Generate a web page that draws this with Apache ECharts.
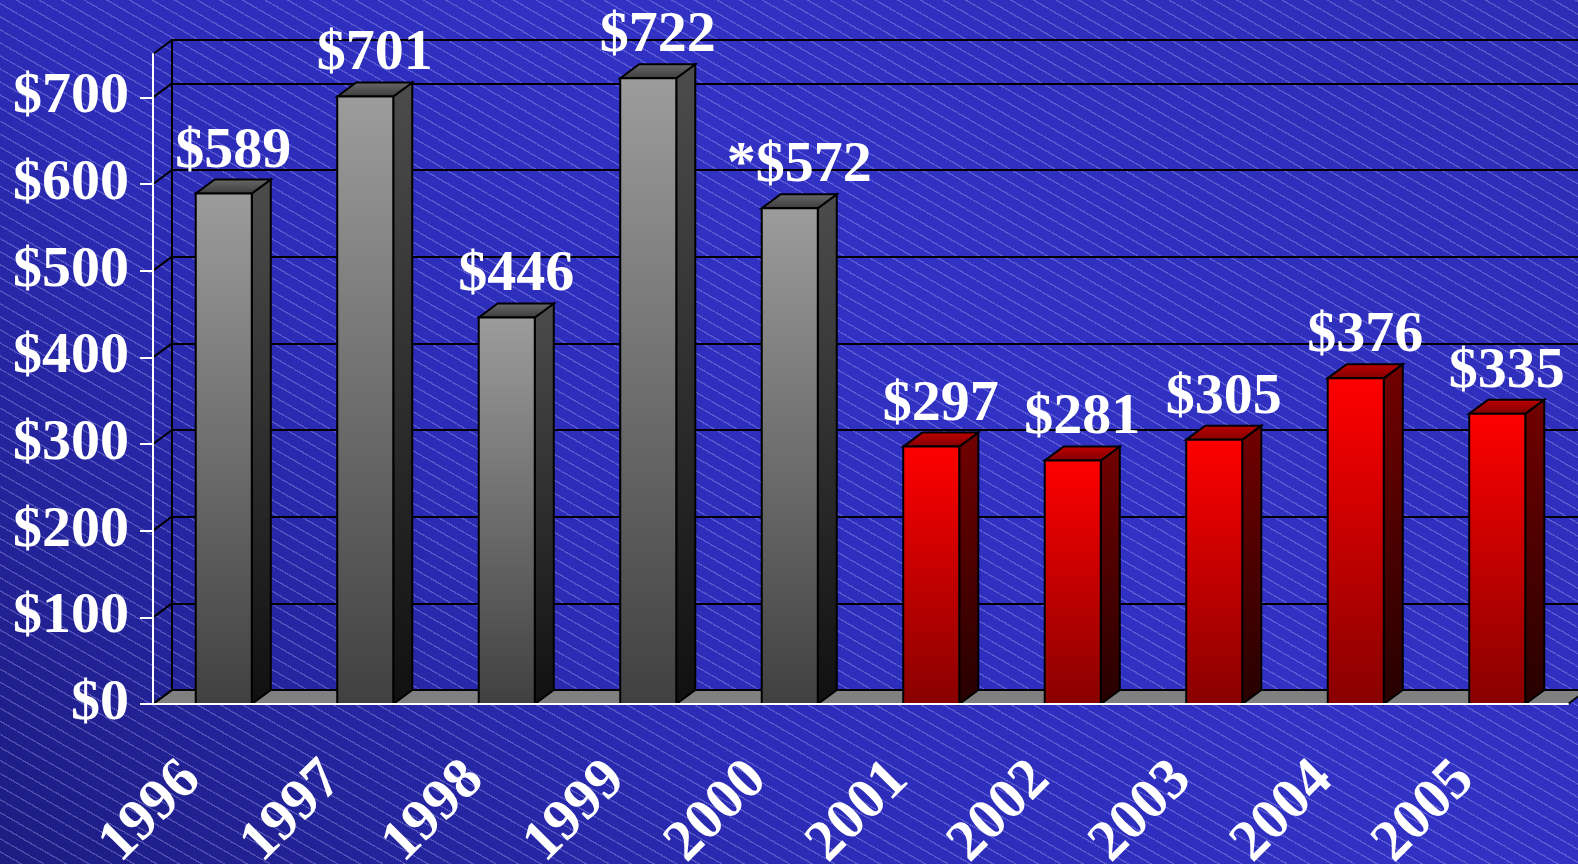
<!DOCTYPE html>
<html>
<head>
<meta charset="utf-8">
<script src="https://cdn.jsdelivr.net/npm/echarts@6/dist/echarts.min.js"></script>
<style>
  html, body { margin: 0; padding: 0; }
  body {
    width: 1578px; height: 864px; overflow: hidden;
    background:
      repeating-linear-gradient(30deg, rgba(255,255,255,0) 0px, rgba(255,255,255,0) 10px, rgba(190,190,255,0.3) 10px, rgba(190,190,255,0.3) 11.3px),
      linear-gradient(45deg, #1c1c82 0%, #2c2cb8 35%, #3131c4 60%, #2d2db6 100%);
  }
  #chart { width: 1578px; height: 864px; }
</style>
</head>
<body>
<div id="chart"></div>
<script>
// 数据
var years = ['1996', '1997', '1998', '1999', '2000', '2001', '2002', '2003', '2004', '2005'];
var costs = [589, 701, 446, 722, 572, 297, 281, 305, 376, 335];
var notes = ['', '', '', '', '*', '', '', '', '', ''];
var yTicks = [0, 100, 200, 300, 400, 500, 600, 700];
var yMax = 750;

// 立体效果的纵深
var DX = 19, DY = -14;
var FONT = '"Liberation Serif", "Times New Roman", serif';

function grad(c1, c2) {
    return { type: 'linear', x: 0, y: 0, x2: 0, y2: 1, colorStops: [{ offset: 0, color: c1 }, { offset: 1, color: c2 }] };
}

var grayStyle = { front: grad('#9c9c9c', '#404040'), side: grad('#4c4c4c', '#101010'), top: grad('#6a6a6a', '#3a3a3a') };
var redStyle = { front: grad('#ff0000', '#880000'), side: grad('#720000', '#260000'), top: grad('#c00000', '#800000') };

var myChart = echarts.init(document.getElementById('chart'));

var option = {
    animation: false,
    grid: [
        { left: 153, right: 10, top: 54, bottom: 160, containLabel: false, outerBoundsMode: 'none' },
        { left: 153 + DX, right: 10 - DX, top: 54 + DY, bottom: 160 - DY, containLabel: false, outerBoundsMode: 'none' }
    ],
    xAxis: [
        {
            gridIndex: 0, type: 'category', data: years, z: 3,
            axisLine: { lineStyle: { color: '#fff', width: 2 } },
            axisTick: { length: 11, lineStyle: { color: '#fff', width: 2 } },
            axisLabel: {
                rotate: 45, margin: 35, padding: [0, 45, 0, 0],
                color: '#fff', fontSize: 58, fontWeight: 'bold', fontFamily: FONT
            }
        },
        {
            gridIndex: 1, type: 'category', data: years,
            axisLine: { lineStyle: { color: '#000', width: 2 } },
            axisTick: { show: false }, axisLabel: { show: false }
        }
    ],
    yAxis: [
        {
            gridIndex: 0, type: 'value', min: 0, max: yMax, interval: 100, z: 3,
            axisLine: { show: true, lineStyle: { color: '#fff', width: 2 } },
            axisTick: { show: true, length: 13, customValues: yTicks, lineStyle: { color: '#fff', width: 2 } },
            axisLabel: {
                customValues: yTicks, margin: 24, color: '#fff', fontSize: 58, fontWeight: 'bold', fontFamily: FONT,
                formatter: function (v) { return '$' + v; }
            },
            splitLine: { show: false }
        },
        {
            gridIndex: 1, type: 'value', min: 0, max: yMax, interval: 100,
            axisLine: { show: true, lineStyle: { color: '#000', width: 2 } },
            axisTick: { show: false }, axisLabel: { show: false },
            splitLine: { show: true, lineStyle: { color: '#000', width: 2 } }
        }
    ],
    series: [
        {
            // 地板和左侧墙的斜线
            type: 'custom', xAxisIndex: 0, yAxisIndex: 0, z: 1, silent: true,
            data: [[0, 0]],
            renderItem: function (params, api) {
                var cs = params.coordSys;
                var yb = api.coord([0, 0])[1];
                var x0 = cs.x, x1 = cs.x + cs.width;
                var children = [{
                    type: 'polygon',
                    shape: { points: [[x0, yb], [x1, yb], [x1 + DX, yb + DY], [x0 + DX, yb + DY]] },
                    style: { fill: '#808080', stroke: '#000', lineWidth: 2 }
                }];
                yTicks.concat([yMax]).forEach(function (v) {
                    var y = api.coord([0, v])[1];
                    children.push({
                        type: 'line',
                        shape: { x1: x0, y1: y, x2: x0 + DX, y2: y + DY },
                        style: { stroke: '#000', lineWidth: 2 }
                    });
                });
                return { type: 'group', children: children };
            }
        },
        {
            // 立体柱子
            type: 'custom', xAxisIndex: 0, yAxisIndex: 0, z: 2,
            data: costs.map(function (v, i) { return [i, v]; }),
            encode: { x: 0, y: 1 },
            renderItem: function (params, api) {
                var i = api.value(0);
                var top = api.coord([i, api.value(1)]);
                var bot = api.coord([i, 0]);
                var bw = api.size([1, 0])[0] * 0.396;
                var xl = top[0] - bw / 2, xr = top[0] + bw / 2;
                var yt = top[1], yb = bot[1];
                var st = Number(years[i]) <= 2000 ? grayStyle : redStyle;
                return {
                    type: 'group',
                    children: [
                        {
                            type: 'polygon',
                            shape: { points: [[xr, yt], [xr + DX, yt + DY], [xr + DX, yb + DY], [xr, yb]] },
                            style: { fill: st.side, stroke: '#000', lineWidth: 2 }
                        },
                        {
                            type: 'polygon',
                            shape: { points: [[xl, yt], [xl + DX, yt + DY], [xr + DX, yt + DY], [xr, yt]] },
                            style: { fill: st.top, stroke: '#000', lineWidth: 2 }
                        },
                        {
                            type: 'rect',
                            shape: { x: xl, y: yt, width: bw, height: yb - yt },
                            style: { fill: st.front, stroke: '#000', lineWidth: 2 }
                        },
                        {
                            type: 'text',
                            style: {
                                text: notes[i] + '$' + costs[i],
                                x: (xl + xr + DX) / 2, y: yt + DY + 1,
                                textAlign: 'center', textVerticalAlign: 'bottom',
                                fill: '#fff', font: 'bold 58px ' + FONT
                            }
                        }
                    ]
                };
            }
        }
    ]
};

myChart.setOption(option);
</script>
</body>
</html>
